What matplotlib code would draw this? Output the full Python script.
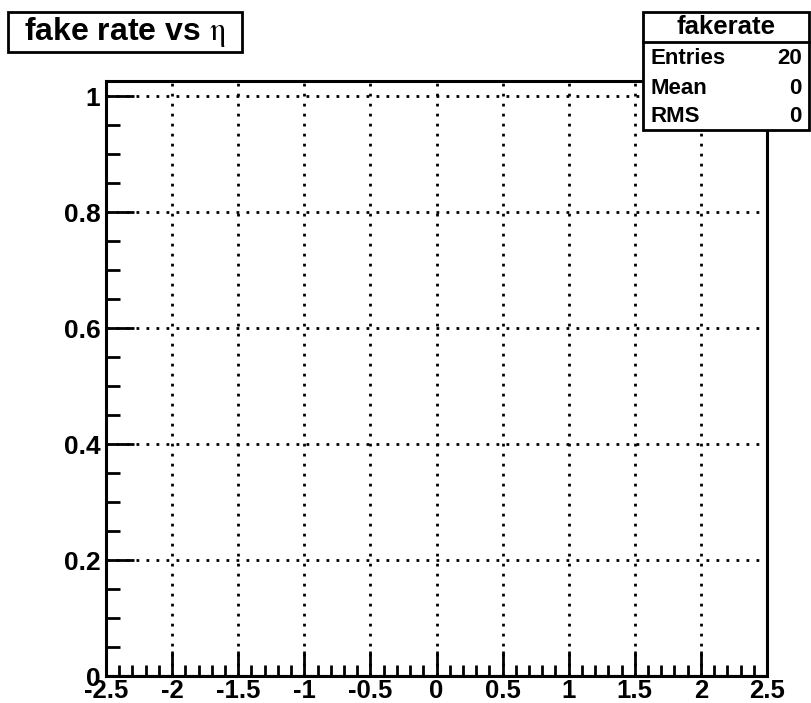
import matplotlib
matplotlib.use("Agg")
import matplotlib.pyplot as plt
from matplotlib.ticker import MultipleLocator, FixedLocator
from matplotlib.patches import Rectangle
from matplotlib.lines import Line2D

plt.rcParams['font.family'] = ['Liberation Sans', 'DejaVu Sans']
plt.rcParams['mathtext.fontset'] = 'stix'

# data
bin_edges = [-2.5, -2.0, -1.5, -1.0, -0.5, 0.0, 0.5, 1.0, 1.5, 2.0, 2.5]
fake_rate = [0, 0, 0, 0, 0, 0, 0, 0, 0, 0]
x_ticks = [-2.5, -2, -1.5, -1, -0.5, 0, 0.5, 1, 1.5, 2, 2.5]
x_tick_labels = ["-2.5", "-2", "-1.5", "-1", "-0.5", "0", "0.5", "1", "1.5", "2", "2.5"]
y_ticks = [0, 0.2, 0.4, 0.6, 0.8, 1.0]
y_tick_labels = ["0", "0.2", "0.4", "0.6", "0.8", "1"]
stats_title = "fakerate"
stats_names = ["Entries", "Mean", "RMS"]
stats_values = ["20", "0", "0"]
title = r"fake rate vs $\mathrm{\eta}$"

W, H = 811, 703
fig = plt.figure(figsize=(W / 100, H / 100), dpi=100)
fig.patch.set_facecolor('white')

left, right, top, bottom = 106, 767, 81, 676
ax = fig.add_axes([left / W, 1 - bottom / H, (right - left) / W, (bottom - top) / H])
ax.set_xlim(-2.5, 2.5)
ax.set_ylim(0, 1.026)

ax.stairs(fake_rate, bin_edges, color='black', linewidth=1.5)

for s in ax.spines.values():
    s.set_linewidth(2.2)
    s.set_color('black')

ax.xaxis.set_major_locator(FixedLocator(x_ticks))
ax.set_xticklabels(x_tick_labels)
ax.yaxis.set_major_locator(FixedLocator(y_ticks))
ax.set_yticklabels(y_tick_labels)
ax.xaxis.set_minor_locator(MultipleLocator(0.1))
ax.yaxis.set_minor_locator(MultipleLocator(0.05))

ax.tick_params(axis='both', which='both', direction='in', top=False, right=False,
               width=2, color='black')
ax.tick_params(axis='x', which='major', length=18, pad=2, labelsize=18.5)
ax.tick_params(axis='x', which='minor', length=8)
ax.tick_params(axis='y', which='major', length=20, pad=4, labelsize=19)
ax.tick_params(axis='y', which='minor', length=10)
for lab in ax.get_xticklabels() + ax.get_yticklabels():
    lab.set_fontweight('bold')

ax.grid(True, which='major', linestyle=(0, (1.0, 2.6)), color='black', linewidth=2.0)

# Title box
tb_x0, tb_y0, tb_x1, tb_y1 = 8, 12, 242, 52
fig.patches.append(Rectangle((tb_x0 / W, 1 - tb_y1 / H), (tb_x1 - tb_x0) / W, (tb_y1 - tb_y0) / H,
                             transform=fig.transFigure, facecolor='white', edgecolor='black',
                             linewidth=2))
fig.text((tb_x0 + tb_x1) / 2 / W, 1 - (tb_y0 + tb_y1) / 2 / H, title,
         ha='center', va='center', fontsize=23, fontweight='bold')

# Stats box
sb_x0, sb_y0, sb_x1, sb_y1 = 643, 12, 809, 130
fig.patches.append(Rectangle((sb_x0 / W, 1 - sb_y1 / H), (sb_x1 - sb_x0) / W, (sb_y1 - sb_y0) / H,
                             transform=fig.transFigure, facecolor='white', edgecolor='black',
                             linewidth=2, zorder=5))
div_y = 42
fig.lines.append(Line2D([sb_x0 / W, sb_x1 / W], [1 - div_y / H, 1 - div_y / H],
                        transform=fig.transFigure, color='black', linewidth=2, zorder=6))
fig.text((sb_x0 + sb_x1) / 2 / W, 1 - 27 / H, stats_title, ha='center', va='center',
         fontsize=18.5, fontweight='bold', zorder=7)
row_y = [58, 88, 117]
for name, val, yy in zip(stats_names, stats_values, row_y):
    fig.text((sb_x0 + 7) / W, 1 - yy / H, name, ha='left', va='center',
             fontsize=16, fontweight='bold', zorder=7)
    fig.text((sb_x1 - 7) / W, 1 - yy / H, val, ha='right', va='center',
             fontsize=16, fontweight='bold', zorder=7)

fig.savefig("out.png", dpi=100)
